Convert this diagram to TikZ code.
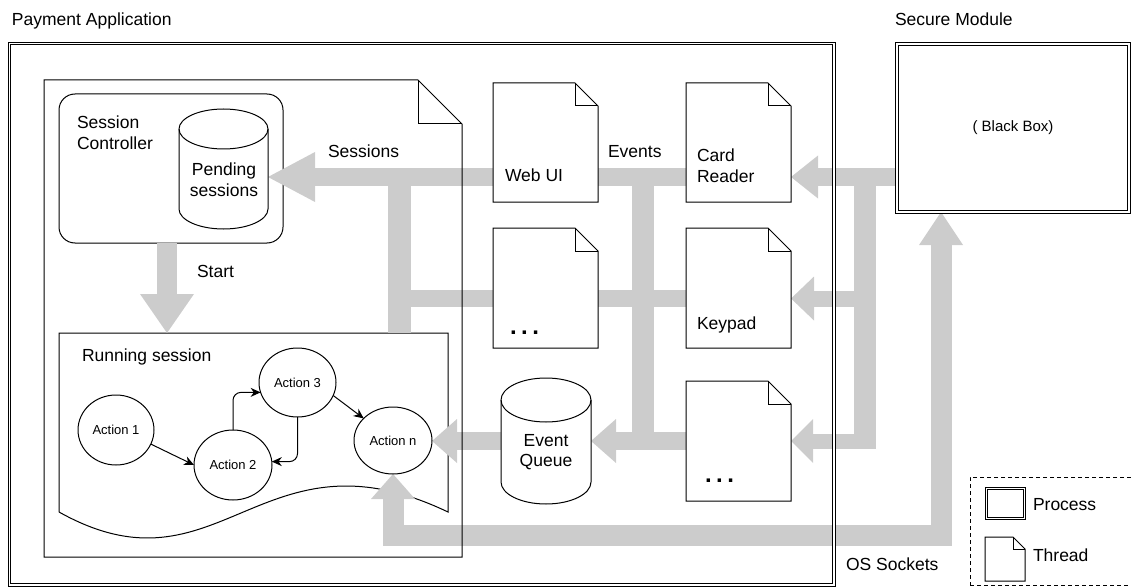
\documentclass[tikz,border=0pt]{standalone}
\usepackage{fontspec}
\setmainfont{Liberation Sans}
\usetikzlibrary{arrows.meta,shapes.geometric}
\pgfdeclarelayer{back}
\pgfdeclarelayer{arrows}
\pgfdeclarelayer{fills}
\pgfsetlayers{back,arrows,fills,main}
\definecolor{bandgray}{HTML}{CCCCCC}
% thread (page with folded corner): node, fold size, path options
\newcommand\threaddraw[3]{%
  \path[#3] (#1.north west) -- ([xshift=-#2]#1.north east) -- ([yshift=-#2]#1.north east) -- (#1.south east) -- (#1.south west) -- cycle;
  \draw[shp] ([xshift=-#2]#1.north east) |- ([yshift=-#2]#1.north east);}
% cylinder: node, x radius, y radius
\newcommand\cyldraw[3]{%
  \filldraw[shp, fill=white] ([yshift=-#3]#1.north west) -- ([yshift=#3]#1.south west) arc[start angle=180, end angle=360, x radius=#2, y radius=#3] -- ([yshift=-#3]#1.north east) arc[start angle=0, end angle=180, x radius=#2, y radius=#3] -- cycle;
  \draw[shp] ([yshift=-#3]#1.north west) arc[start angle=180, end angle=360, x radius=#2, y radius=#3];}
\begin{document}
\begin{tikzpicture}[x=1pt, y=-1pt,
  shp/.style={draw=black, line width=1pt, line join=miter},
  geo/.style={rectangle, inner sep=0pt, outer sep=0pt},
  lbl/.style={font=\fontsize{17.5}{20.5}\selectfont, inner sep=0pt, outer sep=0pt},
  dotsl/.style={font=\fontsize{24}{26}\selectfont\bfseries, inner sep=0pt, outer sep=0pt},
  act/.style={ellipse, draw=black, fill=white, line width=1pt, inner sep=0pt, outer sep=0pt, font=\fontsize{13}{15}\selectfont},
  band/.style={draw=bandgray, line cap=butt, line join=miter},
  proc/.style={draw=black, double=white, double distance=1.4pt, line width=0.9pt},
  aarrow/.style={draw=black, line width=1pt, -{Stealth[length=10pt,width=9pt]}},
]
\useasboundingbox (0,0) rectangle (1131,588);

% ---------- geometry nodes ----------
\node[geo, minimum width=824.5pt, minimum height=541.5pt] (pay) at (421.75,314.25) {};
\node[geo, minimum width=232pt, minimum height=168pt, font=\fontsize{15}{18}\selectfont] (sm) at (1013,128) {( Black Box)};
\node[geo, minimum width=418pt, minimum height=477pt] (sthread) at (253,318.5) {};
\node[geo, minimum width=89pt, minimum height=120pt] (pend) at (223.5,169) {};
\node[geo, minimum width=389pt, minimum height=179pt] (run) at (253.5,422.5) {};
\node[geo, minimum width=105pt, minimum height=119pt] (webui) at (545.5,142.5) {};
\node[geo, minimum width=105pt, minimum height=119pt] (card) at (738.5,142.5) {};
\node[geo, minimum width=105pt, minimum height=120pt] (dotsA) at (545.5,288) {};
\node[geo, minimum width=105pt, minimum height=120pt] (keypad) at (738.5,288) {};
\node[geo, minimum width=105pt, minimum height=120pt] (dotsB) at (738.5,441) {};
\node[geo, minimum width=90pt, minimum height=126pt] (eq) at (546,441) {};
\node[geo, minimum width=38pt, minimum height=30pt] (legP) at (1005.5,503.5) {};
\node[geo, minimum width=40pt, minimum height=44pt] (legT) at (1005,559) {};

\coordinate (yS) at (0,177);
\coordinate (yK) at (0,298.5);
\coordinate (yQ) at (0,441);
\coordinate (yQb) at (0,448);
\coordinate (yOS) at (0,535);
\coordinate (xS) at (399.5,0);
\coordinate (xE) at (643,0);
\coordinate (xR) at (864.5,0);
\coordinate (xRr) at (875.5,0);
\coordinate (xOS) at (941,0);
\coordinate (xSt) at (167,0);

% ---------- back layer: controller, running session ----------
\begin{pgfonlayer}{back}
  \node[geo, draw=black, fill=white, line width=1pt, rounded corners=16pt, minimum width=224pt, minimum height=149pt] (ctrl) at (171,168.5) {};
  \filldraw[shp, fill=white] (run.south west) -- (run.north west) -- (run.north east) -- (run.south east)
     .. controls (260,422) and (220,602) .. (run.south west);
\end{pgfonlayer}

% ---------- action nodes ----------
\node[act, minimum width=76pt, minimum height=70pt] (a1) at (116,430) {Action 1};
\node[act, minimum width=78pt, minimum height=70pt] (a2) at (233,465) {Action 2};
\node[act, minimum width=77pt, minimum height=69pt] (a3) at (297.5,382.5) {Action 3};
\node[act, minimum width=78pt, minimum height=67pt] (an) at (393,440.5) {Action n};

% ---------- gray flows ----------
\begin{pgfonlayer}{arrows}
  \draw[band, line width=18pt, -{Triangle[length=47pt,width=50pt,line width=0pt]}] (card.west |- yS) -- (pend.east |- yS);
  \draw[band, line width=23pt] (xS |- yS) -- (xS |- run.north);
  \draw[band, line width=17pt] (xS |- yK) -- (keypad.west |- yK);
  \draw[band, line width=22pt] (xE |- yS) -- (xE |- yQ);
  \draw[band, line width=18pt, -{Triangle[length=25pt,width=44pt,line width=0pt]}] (dotsB.west |- yQ) -- (eq.east |- yQ);
  \draw[band, line width=18pt, -{Triangle[length=25pt,width=44pt,line width=0pt]}] (eq.west |- yQ) -- (an.east |- yQ);
  \draw[band, line width=18pt, -{Triangle[length=27pt,width=43pt,line width=0pt]}] (sm.west |- yS) -- (card.east |- yS);
  \draw[band, line width=22pt] (xR |- yS) -- (xR |- yQb);
  \draw[band, line width=16pt, -{Triangle[length=23pt,width=44pt,line width=0pt]}] (xR |- yK) -- (keypad.east |- yK);
  \draw[band, line width=15pt, -{Triangle[length=22pt,width=44pt,line width=0pt]}] (xRr |- yQ) -- (dotsB.east |- yQ);
  \draw[band, line width=21pt, {Triangle[length=25pt,width=44pt,line width=0pt]}-{Triangle[length=33pt,width=44pt,line width=0pt]}]
     (an.south) -- (an.south |- yOS) -- (xOS |- yOS) -- (xOS |- sm.south);
  \draw[band, line width=20pt, -{Triangle[length=39pt,width=54pt,line width=0pt]}] (xSt |- ctrl.south) -- (xSt |- run.north);
\end{pgfonlayer}

% ---------- threads and stores ----------
\begin{pgfonlayer}{fills}
  \threaddraw{webui}{23pt}{draw=black, line width=1pt, fill=white}
  \threaddraw{card}{23pt}{draw=black, line width=1pt, fill=white}
  \threaddraw{dotsA}{23pt}{draw=black, line width=1pt, fill=white}
  \threaddraw{keypad}{23pt}{draw=black, line width=1pt, fill=white}
  \threaddraw{dotsB}{23pt}{draw=black, line width=1pt, fill=white}
  \cyldraw{pend}{44.5pt}{20pt}
  \cyldraw{eq}{45pt}{22pt}
\end{pgfonlayer}

% ---------- action connectors ----------
\draw[aarrow] (a1.-22) -- (a2.west);
\draw[aarrow, rounded corners=8pt] (a2.north) |- (a3.195);
\draw[aarrow, rounded corners=8pt] (a3.south) |- (a2.5);
\draw[aarrow] (a3.-20) -- (an.143);

% ---------- outlines on top ----------
\threaddraw{sthread}{44pt}{draw=black, line width=1pt}
\draw[proc] (pay.north west) rectangle (pay.south east);
\draw[proc] (sm.north west) rectangle (sm.south east);

% ---------- legend ----------
\node[geo, draw=black, line width=1pt, dash pattern=on 4pt off 3pt, minimum width=170pt, minimum height=108pt] (leg) at (1055,531) {};
\draw[proc] (legP.north west) rectangle (legP.south east);
\threaddraw{legT}{12pt}{draw=black, line width=1pt, fill=white}
\node[lbl, anchor=base west] (legPt) at (1033,510) {Process};
\node[lbl, anchor=base west] (legTt) at (1033,561.5) {Thread};

% ---------- labels ----------
\node[lbl, anchor=base west] (payt) at (12,25.5) {Payment Application};
\node[lbl, anchor=base west] (smt) at (895,25.5) {Secure Module};
\node[lbl, anchor=north west, align=left] (ctrlt) at (77,116.3) {Session\\Controller};
\node[lbl, anchor=north, align=center] (pendt) at (224,163) {Pending\\sessions};
\node[lbl, anchor=base west] (sesst) at (328,158) {Sessions};
\node[lbl, anchor=base west] (evt) at (608,158) {Events};
\node[lbl, anchor=base west] (startt) at (197,277) {Start};
\node[lbl, anchor=base west] (runt) at (82,361.5) {Running session};
\node[lbl, anchor=base west] (webuit) at (505,181.5) {Web UI};
\node[lbl, anchor=north west, align=left] (cardt) at (697,149) {Card\\Reader};
\node[lbl, anchor=base west] (keypadt) at (697,329) {Keypad};
\node[dotsl, anchor=base west] (dotsAt) at (510,334) {.\kern4.5pt.\kern4.5pt.};
\node[dotsl, anchor=base west] (dotsBt) at (705,482) {.\kern4.5pt.\kern4.5pt.};
\node[lbl, anchor=north, align=center] (eqt) at (546,434) {Event\\Queue};
\node[lbl, anchor=base west] (ost) at (846,570.5) {OS Sockets};
\end{tikzpicture}
\end{document}
